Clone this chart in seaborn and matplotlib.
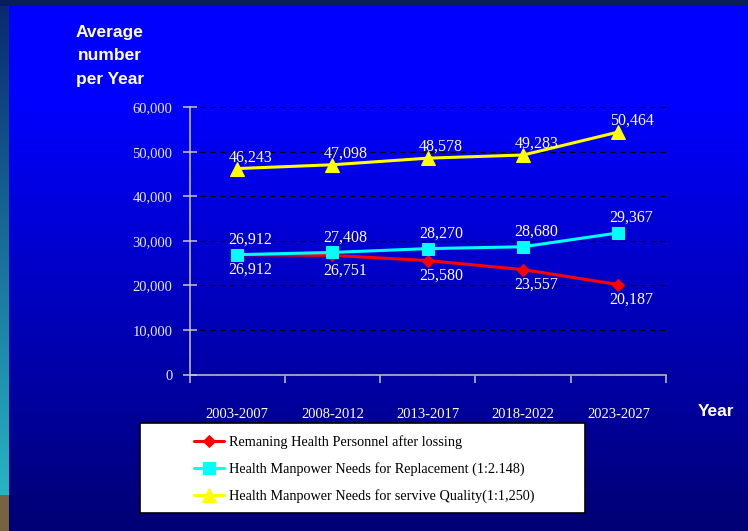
import numpy as np
import pandas as pd
import matplotlib.pyplot as plt
import seaborn as sns
from matplotlib.patches import Rectangle

# values (marks) and the data labels as printed
periods = ['2003-2007', '2008-2012', '2013-2017', '2018-2022', '2023-2027']
remaining = [26912, 26751, 25580, 23557, 20187]
replacement = [26912, 27408, 28270, 28680, 31800]
quality = [46243, 47098, 48578, 49283, 54450]
remaining_labels = ['26,912', '26,751', '25,580', '23,557', '20,187']
replacement_labels = ['26,912', '27,408', '28,270', '28,680', '29,367']
quality_labels = ['46,243', '47,098', '48,578', '49,283', '50,464']
series_names = ['Remaning Health Personnel after lossing',
                'Health Manpower Needs for Replacement (1:2.148)',
                'Health Manpower Needs for servive Quality(1:1,250)']
y_ticks = [0, 10000, 20000, 30000, 40000, 50000, 60000]

sns.set_theme(style='ticks')
plt.rcParams['font.family'] = ['Liberation Serif', 'DejaVu Serif']

W, H = 748, 531
fig = plt.figure(figsize=(W / 100, H / 100), dpi=100)

# slide background: blue gradient, thin dark top band, coloured left strip
rows = np.arange(H)
t = np.clip((rows - 100) / (H - 100), 0, 1)
bg = np.zeros((H, W, 3))
bg[:, :, 2] = (255 - t * 140)[:, None] / 255
s = np.clip(rows / 495, 0, 1)[:, None]
strip = (1 - s) * np.array([10, 40, 110]) + s * np.array([40, 180, 195])
strip[rows >= 495] = [120, 100, 65]
bg[:, :9, :] = (strip / 255)[:, None, :]
bg[:6, :, :] = np.array([10, 30, 90]) / 255
bgax = fig.add_axes([0, 0, 1, 1], zorder=-10)
bgax.imshow(bg, aspect='auto', extent=(0, 1, 0, 1))
bgax.axis('off')

ax = fig.add_axes([189.5 / W, 1 - 374.5 / H, (666 - 189.5) / W, (374.5 - 107.3) / H])
ax.patch.set_alpha(0)

df = pd.DataFrame({'period': periods, 'remaining': remaining,
                   'replacement': replacement, 'quality': quality})

sns.lineplot(data=df, x='period', y='remaining', ax=ax, color='#FF0000', lw=2.2,
             marker='D', markersize=6, markeredgecolor='#FF0000', label=series_names[0])
sns.lineplot(data=df, x='period', y='replacement', ax=ax, color='#00FFFF', lw=2.2,
             marker='s', markersize=8, markeredgecolor='#00FFFF', label=series_names[1])
sns.lineplot(data=df, x='period', y='quality', ax=ax, color='#FFFF00', lw=2.2,
             marker='^', markersize=9.5, markeredgecolor='#FFFF00', label=series_names[2])
handles, labels = ax.get_legend_handles_labels()
ax.get_legend().remove()

# data labels
for vals, labs, dy in [(remaining, remaining_labels, -11),
                       (replacement, replacement_labels, 11),
                       (quality, quality_labels, 8)]:
    for i, (v, lab) in enumerate(zip(vals, labs)):
        ax.annotate(lab, (i, v), xytext=(9.5, dy), textcoords='offset points',
                    ha='center', va='center', color='white', fontsize=11.5)

ax.set_xlim(-0.5, 4.5)
ax.set_ylim(0, 60000)
ax.set_yticks(y_ticks)
ax.set_yticklabels([f'{v:,}' for v in y_ticks])
ax.set_xticks(range(len(periods)))
ax.set_xticklabels(periods)
ax.set_xticks(np.arange(-0.5, len(periods), 1), minor=True)
ax.set_xlabel('')
ax.set_ylabel('')

ax.yaxis.grid(True, color='black', linestyle=(0, (4, 4)), lw=0.9)
for gl in ax.get_ygridlines():
    gl.set_clip_on(False)
ax.xaxis.grid(False)
for side in ['top', 'right']:
    ax.spines[side].set_visible(False)
for side in ['left', 'bottom']:
    ax.spines[side].set_color('#C8C8C8')
    ax.spines[side].set_linewidth(1.1)

ax.tick_params(axis='y', direction='inout', length=9.5, width=1.1, color='#C8C8C8',
               pad=7.5, labelsize=10.5, labelcolor='#E8E8F8')
ax.tick_params(axis='x', which='major', length=0, pad=24, labelsize=10.5, labelcolor='white')
ax.tick_params(axis='x', which='minor', direction='out', length=6, width=1.1, color='#C8C8C8')

fig.text(110 / W, 1 - 56 / H, 'Average\nnumber\nper Year', ha='center', va='center',
         multialignment='center', linespacing=1.7, color='white', fontsize=12.5,
         fontweight='bold', family='Liberation Sans')
fig.text(716 / W, 1 - 411 / H, 'Year', ha='center', va='center', color='white',
         fontsize=12.5, fontweight='bold', family='Liberation Sans')

# legend box
fig.patches.append(Rectangle((140 / W, 1 - 513 / H), (585 - 140) / W, 90 / H,
                             transform=fig.transFigure, facecolor='white',
                             edgecolor='black', lw=1.2, zorder=5))
leg = fig.legend(handles, labels, loc='center left', bbox_to_anchor=(187 / W, 1 - 469 / H),
                 frameon=False, borderpad=0, handlelength=2.1, handletextpad=0.35,
                 labelspacing=0.9, fontsize=10.3)
leg.set_zorder(6)
for txt in leg.get_texts():
    txt.set_color('black')

fig.savefig('out.png', dpi=100)
